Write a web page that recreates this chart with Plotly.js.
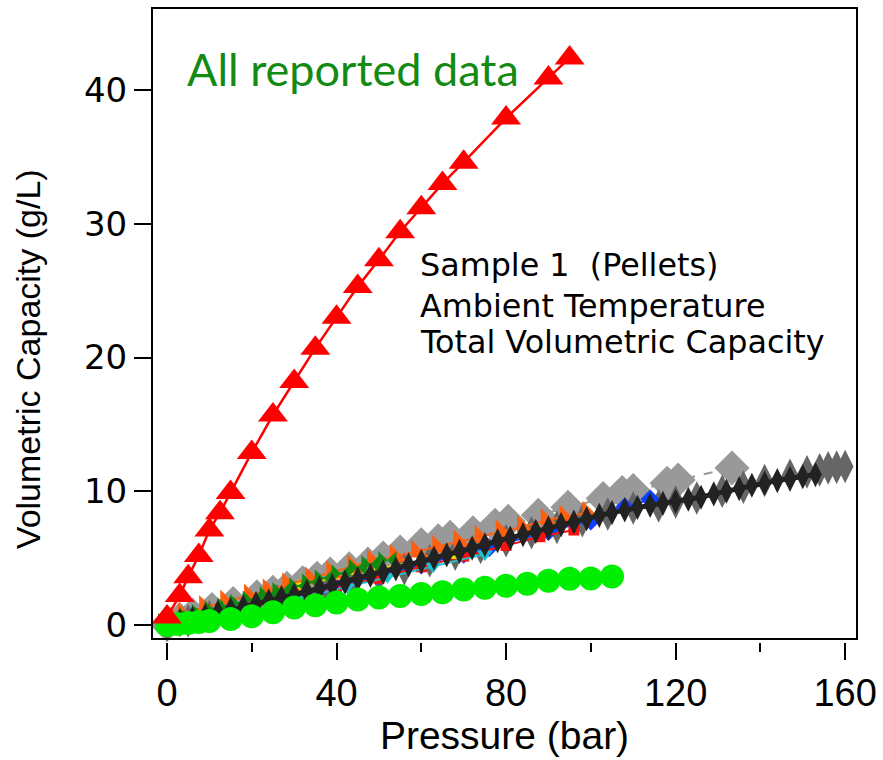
<!DOCTYPE html>
<html>
<head>
<meta charset="utf-8">
<script src="https://cdn.plot.ly/plotly-3.0.1.min.js"></script>
<style>html,body{margin:0;padding:0;background:#fff;}#chart{width:883px;height:760px;}</style>
</head>
<body>
<div id="chart"></div>
<script>
// ---- data ----
var redX = [0, 3, 5, 7.5, 10, 12.5, 15, 20, 25, 30, 35, 40, 45, 50, 55, 60, 65, 70, 80, 90, 95];
var redY = [0.6, 2.2, 3.6, 5.2, 7.1, 8.4, 9.9, 12.9, 15.7, 18.2, 20.7, 23.0, 25.3, 27.3, 29.4, 31.2, 33.0, 34.6, 37.9, 40.9, 42.4];

var limeX = [0, 2.5, 5, 7.5, 10, 15, 20, 25, 30, 35, 40, 45, 50, 55, 60, 65, 70, 75, 80, 85, 90, 95, 100, 105];
var limeY = [0.0, 0.08, 0.15, 0.22, 0.3, 0.45, 0.65, 0.95, 1.3, 1.47, 1.68, 1.9, 2.05, 2.16, 2.32, 2.45, 2.65, 2.78, 2.93, 3.08, 3.3, 3.45, 3.47, 3.62];

var lgrayX = [0, 3, 6, 10.6, 15.6, 21.2, 25, 28.3, 32, 35.4, 38.5, 43, 47.4, 51, 55, 60, 64, 66.8, 72.2, 77.4, 80.5, 87.6, 94.6, 102.9, 107.4, 110, 118, 120.6, 133.3];
var lgrayY = [0.05, 0.4, 0.75, 1.15, 1.6, 2.1, 2.45, 2.75, 3.15, 3.5, 3.8, 4.2, 4.55, 5.0, 5.45, 6.0, 6.3, 6.55, 6.9, 7.45, 7.75, 8.2, 8.8, 9.45, 9.9, 10.05, 10.6, 10.84, 11.74];

var dgrayX = [0, 5, 10, 15, 20, 26, 32, 38, 44, 50, 56, 62, 68, 74, 80, 86, 92, 98, 104, 110, 116, 120, 125, 131, 136, 141, 147, 151, 154, 156, 158, 160];
var dgrayY = [0.0, 0.3, 0.6, 1.0, 1.3, 1.8, 2.2, 2.7, 3.2, 3.7, 4.2, 4.8, 5.3, 5.8, 6.3, 6.9, 7.3, 7.8, 8.3, 8.75, 8.9, 9.2, 9.5, 10.0, 10.3, 10.8, 11.2, 11.45, 11.6, 11.75, 11.8, 11.85];

var blackX = [0, 3, 6, 9, 12, 15, 18, 21, 24, 27, 30, 33, 36, 39, 42, 45, 48, 51, 54, 57, 60, 63, 66, 69, 72, 75, 78, 81, 84, 87, 90, 93, 96, 99, 102, 105, 108, 111, 114, 117, 120, 123, 126, 129, 132, 135, 138, 141, 144, 147, 150, 153];
var blackY = [0.05, 0.3, 0.5, 0.7, 0.95, 1.15, 1.35, 1.6, 1.8, 2.05, 2.25, 2.5, 2.75, 2.95, 3.2, 3.45, 3.7, 3.95, 4.2, 4.5, 4.75, 5.0, 5.25, 5.5, 5.75, 6.0, 6.3, 6.5, 6.75, 7.0, 7.25, 7.5, 7.7, 7.95, 8.2, 8.4, 8.6, 8.8, 8.95, 9.1, 9.25, 9.4, 9.55, 9.8, 10.0, 10.2, 10.45, 10.6, 10.8, 10.95, 11.1, 11.25];

var orangeX = [0, 2, 4, 9, 14, 19.6, 24, 28.6, 34, 39, 44, 48.6, 54, 59, 64, 69, 74, 79, 84, 89.6, 94, 99.4];
var orangeY = [0.1, 0.5, 0.8, 1.35, 1.75, 2.2, 2.6, 3.05, 3.5, 3.95, 4.4, 4.8, 5.15, 5.5, 5.85, 6.25, 6.6, 7.0, 7.35, 7.85, 8.1, 8.4];

var dgreenX = [0, 2, 5, 8, 11, 14, 17, 20, 24, 27, 31, 34, 37, 41, 45, 48, 52];
var dgreenY = [0.2, 0.45, 0.65, 0.9, 1.15, 1.4, 1.65, 1.9, 2.25, 2.55, 2.9, 3.2, 3.5, 3.85, 4.3, 4.55, 4.85];

var blueX = [0, 5, 10, 20, 30, 40, 50, 60, 70, 76, 90, 100, 108, 114];
var blueY = [0, 0.35, 0.7, 1.4, 2.1, 2.9, 3.7, 4.5, 5.3, 5.8, 7.0, 7.8, 8.8, 9.4];

var redSmallX = [0, 10, 20, 30, 40, 50, 60, 70, 80, 88, 96];
var redSmallY = [-0.1, 0.55, 1.25, 1.95, 2.75, 3.5, 4.35, 5.15, 5.95, 6.6, 7.1];

var yellowX = [0, 5, 10, 20, 31, 40, 50, 60, 68];
var yellowY = [-0.45, 0.2, 0.6, 1.5, 2.9, 3.6, 4.2, 4.8, 5.2];

var cyanX = [0, 10, 20, 30, 42.5, 52, 62.8, 75];
var cyanY = [0, 0.5, 1.15, 1.9, 2.84, 3.6, 4.4, 5.3];

var pinkX = [0, 0.5, 1, 2, 3, 4];
var pinkY = [0.05, 0.15, 0.25, 0.35, 0.45, 0.55];

var purpleX = [0, 20, 40, 50, 60];
var purpleY = [0, 1.5, 3.1, 4.0, 4.8];

var xTickVals = [0, 40, 80, 120, 160];
var yTickVals = [0, 10, 20, 30, 40];

function series(x, y, color, symbol, size, lineW, dash) {
  return {
    x: x, y: y, type: 'scatter', mode: 'lines+markers',
    line: {color: color, width: lineW, dash: dash || 'solid'},
    marker: {color: color, symbol: symbol, size: size},
    hoverinfo: 'x+y', showlegend: false
  };
}

var traces = [
  series(lgrayX, lgrayY, '#999999', 'diamond', 27, 2, 'dash'),
  series(dgrayX, dgrayY, '#666666', 'diamond-tall', 24, 2),
  series(blueX, blueY, '#1040ff', 'diamond', 15, 2),
  series(redSmallX, redSmallY, '#ff1010', 'square', 11, 2),
  series(yellowX, yellowY, '#e8e000', 'triangle-up', 14, 2),
  series(cyanX, cyanY, '#20c0d0', 'triangle-down', 14, 2),
  series(purpleX, purpleY, '#8020c0', 'circle', 8, 1.5),
  series(pinkX, pinkY, '#ff40d0', 'circle', 16, 2),
  series(orangeX, orangeY, '#ff6010', 'triangle-sw', 20, 2),
  series(dgreenX, dgreenY, '#108a10', 'bowtie', 18, 2),
  series(blackX, blackY, '#222222', 'diamond-tall', 18, 5),
  {x: limeX, y: limeY, type: 'scatter', mode: 'markers',
   marker: {color: '#00ee00', symbol: 'circle', size: 24}, showlegend: false},
  series(redX, redY, '#ff0000', 'triangle-up', 26, 2.5)
];

var layout = {
  width: 883, height: 760,
  margin: {l: 152, r: 26, t: 8, b: 118},
  paper_bgcolor: '#ffffff', plot_bgcolor: '#ffffff',
  showlegend: false,
  xaxis: {
    range: [-3.54, 162.8],
    tickmode: 'array', tickvals: xTickVals, ticktext: xTickVals.map(String),
    ticks: 'outside', ticklen: 17, tickwidth: 2, tickcolor: '#000',
    minor: {dtick: 20, tick0: 0, ticks: 'outside', ticklen: 9, tickwidth: 2, tickcolor: '#000', showgrid: false},
    showgrid: false, zeroline: false, showline: false,
    tickfont: {family: 'Liberation Sans, Arial, sans-serif', size: 38, color: '#000'},
    title: {text: 'Pressure (bar)', font: {family: 'Liberation Sans, Arial, sans-serif', size: 39, color: '#000'}, standoff: 6}
  },
  yaxis: {
    range: [-1.271, 46.13],
    tickmode: 'array', tickvals: yTickVals, ticktext: yTickVals.map(String),
    ticks: 'outside', ticklen: 17, tickwidth: 2, tickcolor: '#000',
    showgrid: false, zeroline: false, showline: false,
    tickfont: {family: 'DejaVu Sans, sans-serif', size: 34, color: '#000'}
  },
  shapes: [
    {type: 'rect', xref: 'paper', yref: 'paper', x0: 0, x1: 1, y0: 0.0047, y1: 1,
     line: {color: '#000', width: 2}, fillcolor: 'rgba(0,0,0,0)', layer: 'above'}
  ],
  annotations: [
    {text: 'Volumetric Capacity (g/L)', textangle: -90, xref: 'paper', yref: 'paper',
     x: -0.176, y: 0.446, xanchor: 'center', yanchor: 'middle', showarrow: false,
     font: {family: 'Liberation Sans, Arial, sans-serif', size: 34, color: '#000'}},
    {text: 'All reported data', xref: 'paper', yref: 'paper', x: 0.047, y: 0.904,
     xanchor: 'left', yanchor: 'middle', showarrow: false,
     font: {family: 'Lato, sans-serif', size: 45, color: '#138a13'}},
    {text: 'Sample 1\u00a0\u00a0(Pellets)', xref: 'paper', yref: 'paper', x: 0.377, y: 0.5954,
     xanchor: 'left', yanchor: 'middle', showarrow: false,
     font: {family: 'DejaVu Sans, sans-serif', size: 31.8, color: '#000'}},
    {text: 'Ambient Temperature', xref: 'paper', yref: 'paper', x: 0.377, y: 0.5308,
     xanchor: 'left', yanchor: 'middle', showarrow: false,
     font: {family: 'DejaVu Sans, sans-serif', size: 31.8, color: '#000'}},
    {text: 'Total Volumetric Capacity', xref: 'paper', yref: 'paper', x: 0.377, y: 0.474,
     xanchor: 'left', yanchor: 'middle', showarrow: false,
     font: {family: 'DejaVu Sans, sans-serif', size: 31.8, color: '#000'}}
  ]
};

Plotly.newPlot('chart', traces, layout, {displayModeBar: false, staticPlot: true});
</script>
</body>
</html>
